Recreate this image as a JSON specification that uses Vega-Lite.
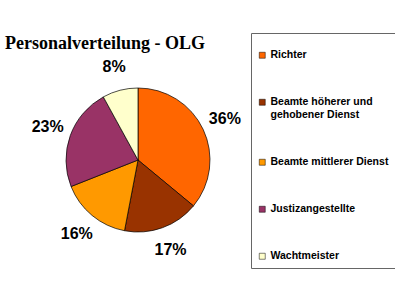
{
  "$schema": "https://vega.github.io/schema/vega-lite/v6.json",
  "autosize": "none",
  "width": 276,
  "height": 240,
  "padding": {"top": 40, "left": 0, "right": 119, "bottom": 20},
  "background": "white",
  "title": {
    "text": "Personalverteilung - OLG",
    "anchor": "start",
    "frame": "group",
    "font": "Liberation Serif",
    "fontSize": 18,
    "fontWeight": "bold",
    "color": "#000000",
    "offset": -20,
    "dx": 5
  },
  "data": {
    "values": [
      {"gruppe": "Richter", "anteil": 36, "label": "36%", "idx": 1},
      {"gruppe": "Beamte höherer und gehobener Dienst", "anteil": 17, "label": "17%", "idx": 2},
      {"gruppe": "Beamte mittlerer Dienst", "anteil": 16, "label": "16%", "idx": 3},
      {"gruppe": "Justizangestellte", "anteil": 23, "label": "23%", "idx": 4},
      {"gruppe": "Wachtmeister", "anteil": 8, "label": "8%", "idx": 5}
    ]
  },
  "encoding": {
    "theta": {"field": "anteil", "type": "quantitative", "stack": true},
    "order": {"field": "idx", "type": "quantitative"},
    "color": {
      "field": "gruppe",
      "type": "nominal",
      "scale": {
        "domain": ["Richter", "Beamte höherer und gehobener Dienst", "Beamte mittlerer Dienst", "Justizangestellte", "Wachtmeister"],
        "range": ["#FF6600", "#993300", "#FF9900", "#993366", "#FFFFCC"]
      },
      "legend": {
        "orient": "none",
        "legendX": 251,
        "legendY": -7,
        "title": " ",
        "titleFontSize": 8,
        "titlePadding": 3,
        "symbolType": "square",
        "symbolSize": 36,
        "symbolStrokeColor": "#000000",
        "symbolStrokeWidth": 0.5,
        "labelFont": "Liberation Sans",
        "labelFontSize": 10.5,
        "labelFontWeight": "bold",
        "labelColor": "#000000",
        "labelLimit": 200,
        "labelOffset": 3,
        "labelExpr": "datum.label == 'Beamte höherer und gehobener Dienst' ? ['Beamte höherer und', 'gehobener Dienst'] : datum.label",
        "rowPadding": 36,
        "padding": 6,
        "strokeColor": "#666666",
        "fillColor": "#FFFFFF"
      }
    }
  },
  "layer": [
    {
      "mark": {"type": "arc", "outerRadius": 72, "stroke": "#000000", "strokeWidth": 0.7}
    },
    {
      "mark": {
        "type": "text",
        "radius": 96,
        "font": "Liberation Sans",
        "fontSize": 16,
        "fontWeight": "bold",
        "fill": "#000000"
      },
      "encoding": {
        "text": {"field": "label", "type": "nominal"},
        "color": {"value": "#000000"}
      }
    }
  ]
}
